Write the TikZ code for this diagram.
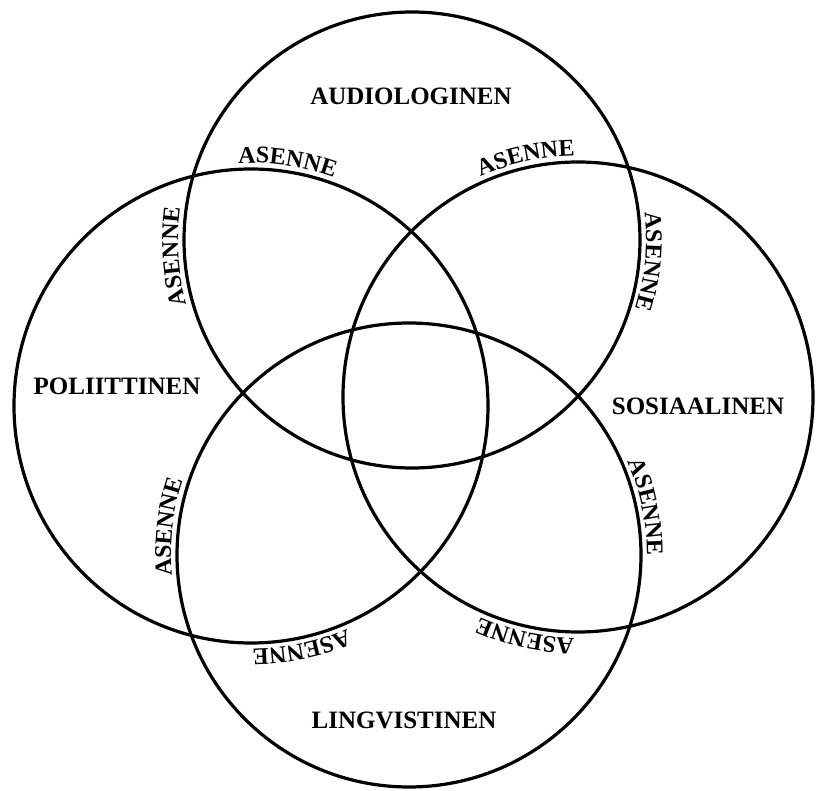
\documentclass[tikz,border=0pt]{standalone}
\usepackage{fontspec}
\setmainfont{Liberation Serif}
\usetikzlibrary{decorations.text}
\newcommand{\asennefont}{\fontsize{24}{24}\selectfont\bfseries}
\begin{document}
\begin{tikzpicture}[x=1pt,y=1pt,
  ring/.style={circle,draw,line width=3.2pt,inner sep=0pt,outer sep=0pt},
  lbl/.style={font=\fontsize{25}{25}\selectfont\bfseries,anchor=base,inner sep=0pt},
  asenne/.style={decorate,decoration={text along path,text align=center,text={|\asennefont|ASENNE}}}]
\useasboundingbox (0,0) rectangle (820,-791);
\fill[white] (0,0) rectangle (820,-791);
\coordinate (cT) at (412,-240);
\coordinate (cL) at (251,-406);
\coordinate (cR) at (578,-397);
\coordinate (cB) at (409,-555);
\node[ring,minimum size=456pt] (top) at (cT) {};
\node[ring,minimum size=474pt] (left) at (cL) {};
\node[ring,minimum size=470pt] (right) at (cR) {};
\node[ring,minimum size=464pt] (bottom) at (cB) {};
\node[lbl] (audio) at (411,-105) {AUDIOLOGINEN};
\node[lbl] (poli) at (117,-395) {POLIITTINEN};
\node[lbl] (sosi) at (698,-415) {SOSIAALINEN};
\node[lbl] (ling) at (404,-728) {LINGVISTINEN};
\path[asenne] (cL) ++(101.5:243) arc[start angle=101.5,end angle=61.5,radius=243];
\path[asenne] (cR) ++(122.3:241) arc[start angle=122.3,end angle=82.3,radius=241];
\path[asenne] (cT) ++(14.8:234) arc[start angle=14.8,end angle=-25.2,radius=234];
\path[asenne] (cT) ++(204:234) arc[start angle=204,end angle=164,radius=234];
\path[asenne] (cB) ++(193.3:238) arc[start angle=193.3,end angle=153.3,radius=238];
\path[asenne] (cB) ++(31.5:238) arc[start angle=31.5,end angle=-8.5,radius=238];
\path[asenne] (cL) ++(-58.2:243) arc[start angle=-58.2,end angle=-98.2,radius=243];
\path[asenne] (cR) ++(-82.5:241) arc[start angle=-82.5,end angle=-122.5,radius=241];
\end{tikzpicture}
\end{document}
